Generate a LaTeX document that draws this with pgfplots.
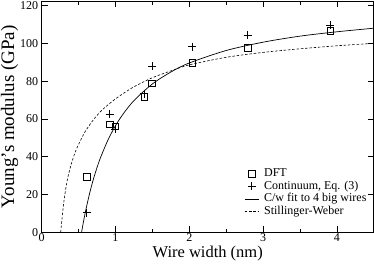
\documentclass[border=0pt]{standalone}
\usepackage{fontspec}
\setmainfont{Liberation Serif}
\usepackage{pgfplots}
\pgfplotsset{compat=1.18}
\pgfplotsset{
  marklegend/.style={legend image code/.code={\path (0pt,0pt) (14pt,0pt); \draw[##1] plot coordinates {(7pt,0pt)};}},
  linelegend/.style={legend image code/.code={\draw[##1] (0pt,0pt) -- (14pt,0pt);}},
}
\begin{document}
\begin{tikzpicture}
\begin{axis}[
  scale only axis,
  width=332pt, height=231.3pt,
  xmin=0, xmax=4.5, ymin=0, ymax=122.4,
  xtick={0,1,2,3,4}, minor xtick={0.5,1.5,2.5,3.5,4.5},
  ytick={0,20,40,60,80,100,120},
  tick align=inside,
  major tick length=6pt, minor tick length=3.5pt,
  tick style={black, line width=0.6pt},
  axis line style={line width=0.8pt},
  /pgf/number format/assume math mode=true,
  ticklabel style={font=\fontsize{12}{14}\selectfont},
  xticklabel style={inner sep=1.5pt},
  xlabel={Wire width (nm)},
  ylabel={Young's modulus (GPa)},
  xlabel style={font=\fontsize{16.5}{18}\selectfont, inner sep=0pt, at={(axis description cs:0.5,-0.092)}, anchor=center},
  ylabel style={font=\fontsize{19}{21}\selectfont, inner sep=0pt, at={(axis description cs:-0.097,0.5)}, anchor=center},
  legend cell align=left,
  legend style={draw=none, fill=none, inner sep=0pt, at={(rel axis cs:0.61,0.279)}, anchor=north west,
    font=\fontsize{12}{14}\selectfont, row sep=1.0pt,
    /tikz/every odd column/.append style={column sep=5pt},
    nodes={inner sep=0pt, text height=8.6pt, text depth=3pt}},
]
\addplot[only marks, mark=square, mark size=3.3pt, mark options={line width=0.6pt}, marklegend]
  coordinates {(0.61,29.4) (0.92,57.2) (1.00,56.2) (1.39,71.6) (1.49,78.8) (2.04,89.7) (2.79,97.7) (3.91,106.7)};
\addlegendentry{DFT}
\addplot[only marks, mark=+, mark size=4pt, mark options={line width=0.6pt}, marklegend]
  coordinates {(0.61,10.4) (0.92,62.4) (1.00,54.5) (1.39,73.3) (1.50,88.0) (2.04,98.2) (2.79,104.4) (3.91,109.7)};
\addlegendentry{Continuum, Eq. (3)}
\addplot[black, line width=0.7pt, smooth, no marks, linelegend]
  coordinates {(0.5404,0) (0.56,4.3) (0.58,8.4) (0.60,12.2) (0.65,20.7) (0.70,28.0) (0.75,34.3) (0.80,39.8) (0.90,49.0) (1.00,56.4) (1.10,62.4) (1.25,69.7) (1.50,78.5) (1.75,84.8) (2.00,89.6) (2.50,96.2) (3.00,100.6) (3.50,103.8) (4.00,106.1) (4.50,108.0)};
\addlegendentry{C/w fit to 4 big wires}
\addplot[black, line width=0.6pt, dash pattern=on 2.5pt off 1.8pt, smooth, no marks, linelegend]
  coordinates {(0.257,0) (0.28,9) (0.30,16) (0.33,24) (0.36,30) (0.40,36) (0.45,42) (0.50,46.5) (0.55,50.5) (0.60,54) (0.70,59.5) (0.80,64) (0.90,67.5) (1.00,70.6) (1.10,73.3) (1.25,77.0) (1.50,81.8) (1.75,85.4) (2.00,88.6) (2.50,92.6) (3.00,95.2) (3.50,97.1) (4.00,98.7) (4.50,100.0)};
\addlegendentry{Stillinger-Weber}
\end{axis}
\pgfresetboundingbox
\path[use as bounding box] (-41.7pt,-30.7pt) rectangle (332.3pt,232.3pt);
\end{tikzpicture}
\end{document}
